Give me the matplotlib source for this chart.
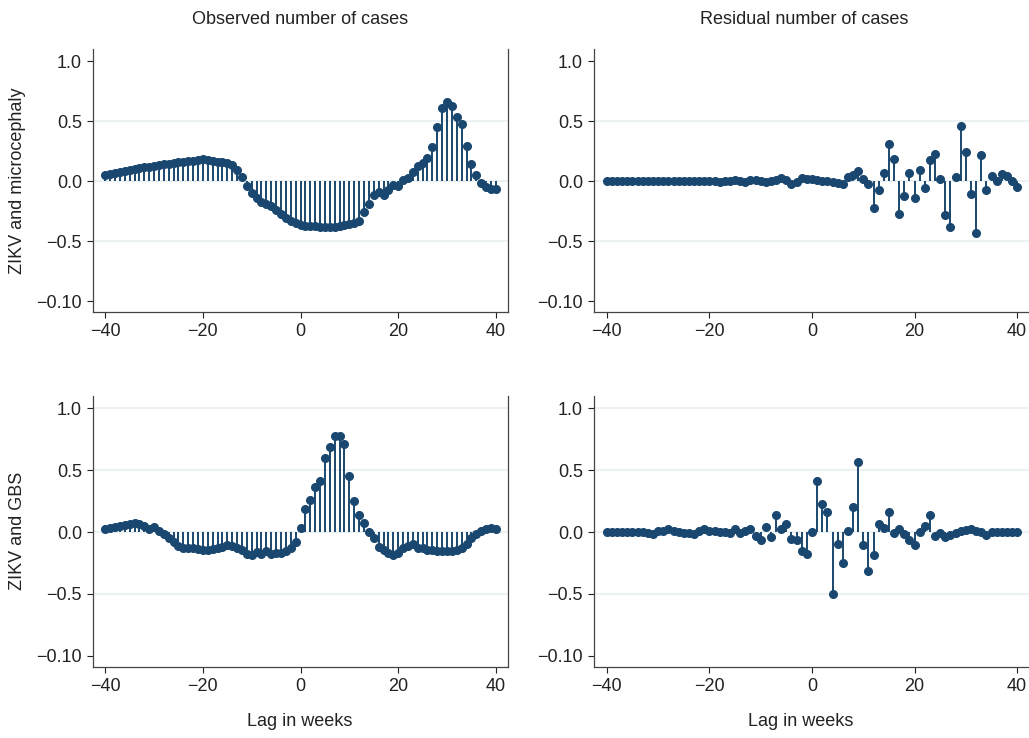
import numpy as np
import matplotlib
matplotlib.use('Agg')
import matplotlib.pyplot as plt

plt.rcParams['font.family'] = ['Liberation Sans', 'DejaVu Sans']
plt.rcParams['font.size'] = 13

lags = list(range(-40, 41))

# ZIKV and microcephaly, observed cross-correlation
obs_micro = [
    0.053, 0.062, 0.070, 0.078, 0.086, 0.094, 0.101, 0.108, 0.115, 0.121,
    0.127, 0.133, 0.139, 0.145, 0.151, 0.156, 0.161, 0.166, 0.171, 0.176,
    0.180, 0.176, 0.166, 0.160, 0.155, 0.148, 0.130, 0.092, 0.036, -0.040,
    -0.097, -0.139, -0.170, -0.190, -0.210, -0.240, -0.275, -0.305, -0.330, -0.350,
    -0.362, -0.370, -0.375, -0.378, -0.380, -0.383, -0.385, -0.380, -0.375, -0.368,
    -0.360, -0.348, -0.330, -0.258, -0.190, -0.117, -0.090, -0.117, -0.078, -0.035,
    -0.040, 0.012, 0.022, 0.078, 0.125, 0.153, 0.195, 0.287, 0.450, 0.605,
    0.655, 0.625, 0.530, 0.475, 0.290, 0.140, 0.050, -0.015, -0.047, -0.067,
    -0.068,
]

# ZIKV and microcephaly, residual
res_micro = [
    0.0, 0.0, 0.0, 0.0, 0.0, 0.0, 0.0, 0.0, 0.0, 0.0,
    0.0, 0.0, 0.0, 0.0, 0.0, 0.0, 0.002, 0.0, 0.0, 0.002,
    0.005, 0.0, -0.005, 0.0, 0.005, 0.01, 0.005, -0.005, 0.012, 0.008,
    0.0, -0.005, -0.003, 0.012, 0.025, 0.008, -0.02, -0.008, 0.022, 0.015,
    0.015, 0.008, -0.002, 0.0, -0.005, -0.018, -0.02, 0.03, 0.05, 0.083,
    0.014, -0.022, -0.22, -0.078, 0.07, 0.305, 0.18, -0.27, -0.125, 0.07,
    -0.14, 0.089, -0.061, 0.175, 0.228, 0.014, -0.283, -0.38, 0.03, 0.458,
    0.244, -0.108, -0.43, 0.214, -0.075, 0.042, 0.0, 0.056, 0.042, 0.005,
    -0.047,
]

# ZIKV and GBS, observed cross-correlation
obs_gbs = [
    0.027, 0.032, 0.040, 0.048, 0.054, 0.067, 0.075, 0.067, 0.048, 0.027,
    0.040, 0.013, -0.019, -0.046, -0.078, -0.113, -0.130, -0.130, -0.130, -0.137,
    -0.142, -0.145, -0.140, -0.132, -0.121, -0.108, -0.110, -0.126, -0.148, -0.180,
    -0.188, -0.164, -0.175, -0.153, -0.175, -0.167, -0.172, -0.153, -0.132, -0.078,
    0.035, 0.188, 0.258, 0.366, 0.410, 0.600, 0.688, 0.780, 0.780, 0.715,
    0.452, 0.255, 0.142, 0.073, 0.0, -0.046, -0.121, -0.148, -0.172, -0.183,
    -0.172, -0.132, -0.113, -0.099, -0.126, -0.132, -0.145, -0.148, -0.153, -0.153,
    -0.153, -0.155, -0.148, -0.126, -0.099, -0.046, -0.013, 0.008, 0.027, 0.030,
    0.024,
]

# ZIKV and GBS, residual
res_gbs = [
    0.0, 0.0, 0.0, 0.0, 0.0, 0.0, 0.003, -0.003, -0.01, -0.018,
    0.008, 0.013, 0.025, 0.008, 0.0, -0.005, -0.005, -0.018, 0.012, 0.025,
    0.01, 0.008, 0.005, 0.005, -0.005, 0.022, -0.01, 0.012, 0.025, -0.035,
    -0.062, 0.042, -0.037, 0.14, 0.022, 0.065, -0.058, -0.063, -0.155, -0.18,
    0.005, 0.411, 0.228, 0.164, -0.5, -0.1, -0.247, 0.013, 0.2, 0.567,
    -0.105, -0.312, -0.185, 0.065, 0.035, 0.159, -0.008, 0.024, -0.013, -0.065,
    -0.108, 0.005, 0.046, 0.142, -0.03, -0.01, -0.04, -0.02, -0.005, 0.008,
    0.02, 0.027, 0.013, 0.0, -0.02, 0.0, 0.0, 0.0, 0.0, 0.0,
    0.0,
]

navy = '#1a476f'
grid_col = '#eaf2f3'
text_col = '#222222'
yticks = [-1.0, -0.5, 0.0, 0.5, 1.0]
ylabels = ['\u22120.10', '\u22120.5', '0.0', '0.5', '1.0']

fig = plt.figure(figsize=(10.29, 7.38), dpi=100)

W, H = 1029.0, 738.0
# left, top, right, bottom in pixels
boxes = [
    (93, 49, 508, 312),
    (594, 49, 1030, 312),
    (93, 396, 508, 667),
    (594, 396, 1030, 667),
]
series = [obs_micro, res_micro, obs_gbs, res_gbs]

for i, (l, t, r, b) in enumerate(boxes):
    ax = fig.add_axes([l / W, 1 - b / H, (r - l) / W, (b - t) / H])
    vals = series[i]
    grids = [-0.5, 0.0, 0.5] if i < 2 else [-0.5, 0.0, 0.5, 1.0]
    for g in grids:
        ax.axhline(g, color=grid_col, lw=1.5, zorder=0)
    ax.vlines(lags, 0, vals, color=navy, lw=1.4, zorder=2)
    ax.plot(lags, vals, 'o', color=navy, ms=5.5, zorder=3)
    ax.set_xlim(-42.5, 42.5)
    ax.set_ylim(-1.09, 1.1)
    ax.set_xticks([-40, -20, 0, 20, 40])
    ax.set_yticks(yticks)
    ax.set_yticklabels(ylabels)
    ax.tick_params(direction='out', length=4, width=0.8, colors=text_col,
                   labelsize=13, pad=4)
    ax.spines['top'].set_visible(False)
    if i % 2 == 1:
        ax.spines['right'].set_visible(False)
    for s in ['left', 'bottom', 'right']:
        ax.spines[s].set_color('#444444')
        ax.spines[s].set_linewidth(0.9)

fig.text(300 / W, 1 - 20 / H, 'Observed number of cases', ha='center', va='center',
         fontsize=13, color=text_col)
fig.text(804 / W, 1 - 20 / H, 'Residual number of cases', ha='center', va='center',
         fontsize=13, color=text_col)
fig.text(300 / W, 1 - 722 / H, 'Lag in weeks', ha='center', va='center',
         fontsize=13, color=text_col)
fig.text(801 / W, 1 - 722 / H, 'Lag in weeks', ha='center', va='center',
         fontsize=13, color=text_col)
fig.text(18 / W, 1 - 181 / H, 'ZIKV and microcephaly', ha='center', va='center',
         rotation=90, fontsize=13, color=text_col)
fig.text(18 / W, 1 - 531 / H, 'ZIKV and GBS', ha='center', va='center',
         rotation=90, fontsize=13, color=text_col)

fig.savefig('out.png', dpi=100, facecolor='white')
